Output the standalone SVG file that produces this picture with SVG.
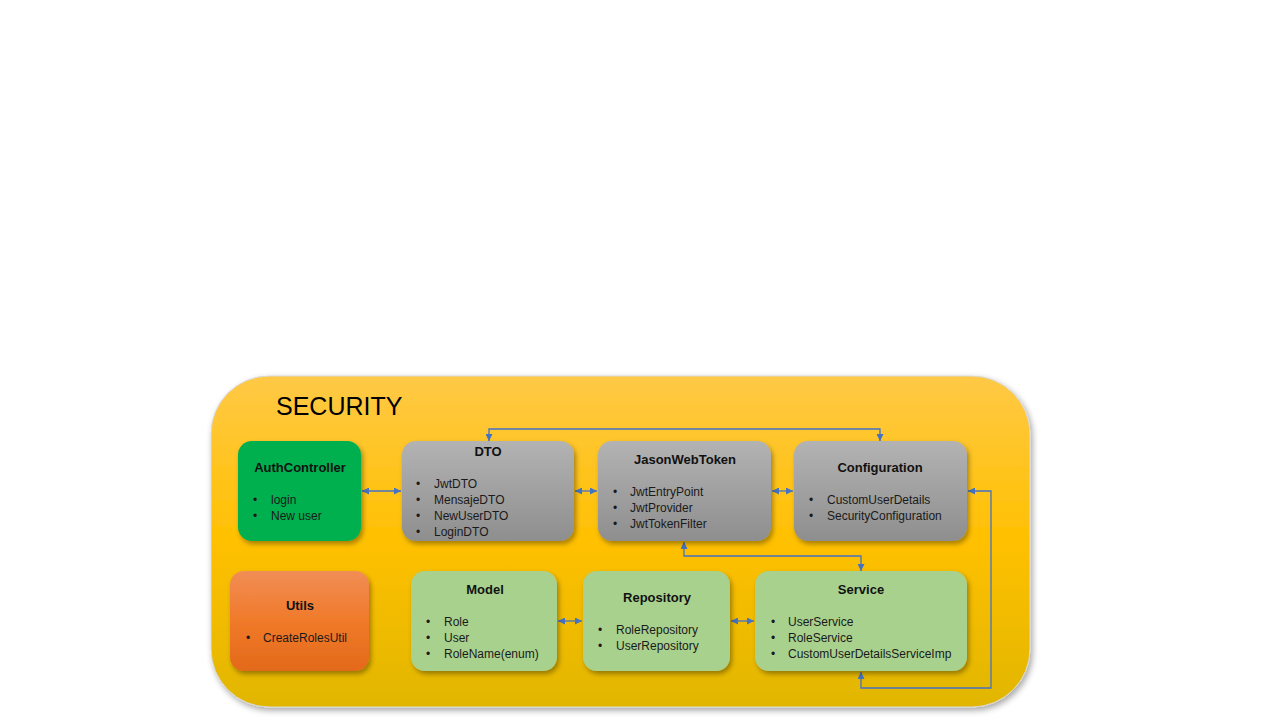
<svg xmlns="http://www.w3.org/2000/svg" width="1280" height="720" viewBox="0 0 1280 720">
<defs>
<linearGradient id="gOuter" x1="0" y1="0" x2="0" y2="1">
<stop offset="0" stop-color="#FFC946"/>
<stop offset="0.5" stop-color="#FFC000"/>
<stop offset="1" stop-color="#E1B600"/>
</linearGradient>
<linearGradient id="gGray" x1="0" y1="0" x2="0" y2="1">
<stop offset="0" stop-color="#B3B3B3"/>
<stop offset="1" stop-color="#8E8E8E"/>
</linearGradient>
<linearGradient id="gOrange" x1="0" y1="0" x2="0" y2="1">
<stop offset="0" stop-color="#F18D55"/>
<stop offset="0.5" stop-color="#F07A2A"/>
<stop offset="1" stop-color="#E3691A"/>
</linearGradient>
<filter id="sh" x="-10%" y="-10%" width="125%" height="130%">
<feDropShadow dx="2" dy="3" stdDeviation="2.5" flood-color="#000" flood-opacity="0.35"/>
</filter>
<filter id="shOuter" x="-5%" y="-5%" width="110%" height="115%">
<feDropShadow dx="2" dy="3" stdDeviation="3" flood-color="#000" flood-opacity="0.35"/>
</filter>
<marker id="arr" viewBox="0 0 10 10" refX="10" refY="5" markerWidth="7" markerHeight="7" markerUnits="userSpaceOnUse" orient="auto-start-reverse">
<path d="M0,0 L10,5 L0,10 z" fill="#4472C4"/>
</marker>
</defs>
<style>
.title{font-family:"Liberation Sans",Arial,sans-serif;font-weight:bold;font-size:13px;fill:#111;text-anchor:middle}
.item{font-family:"Liberation Sans",Arial,sans-serif;font-size:12px;fill:#1a1a1a}
.sec{font-family:"Liberation Sans",Arial,sans-serif;font-size:25px;fill:#000}
.conn{fill:none;stroke:#4472C4;stroke-width:1.3;marker-start:url(#arr);marker-end:url(#arr)}
.box{filter:url(#sh)}
</style>
<rect width="1280" height="720" fill="#FFFFFF"/>
<g id="security">
<rect x="211" y="376" width="819" height="331" rx="58" ry="58" fill="url(#gOuter)" stroke="#D9D9D9" stroke-width="1" filter="url(#shOuter)"/>
<text class="sec" x="276" y="415">SECURITY</text>
</g>
<g id="connectors">
<path class="conn" d="M362,491 H401"/>
<path class="conn" d="M575,491 H597"/>
<path class="conn" d="M772,491 H793"/>
<path class="conn" d="M489,441 V429 H880 V441"/>
<path class="conn" d="M684,542 V556 H861 V571"/>
<path class="conn" d="M558,621 H582"/>
<path class="conn" d="M731,621 H754"/>
<path class="conn" d="M861,672 V688 H991 V491 H968"/>
</g>
<g id="authcontroller">
<rect class="box" x="238" y="441" width="123" height="100" rx="14" fill="#00B050"/>
<text class="title" x="300" y="472">AuthController</text>
<text class="item" x="253" y="504">•</text><text class="item" x="271" y="504">login</text>
<text class="item" x="253" y="520">•</text><text class="item" x="271" y="520">New user</text>
</g>
<g id="dto">
<rect class="box" x="402" y="441" width="172" height="100" rx="14" fill="url(#gGray)"/>
<text class="title" x="488" y="456">DTO</text>
<text class="item" x="416" y="488">•</text><text class="item" x="434" y="488">JwtDTO</text>
<text class="item" x="416" y="504">•</text><text class="item" x="434" y="504">MensajeDTO</text>
<text class="item" x="416" y="520">•</text><text class="item" x="434" y="520">NewUserDTO</text>
<text class="item" x="416" y="536">•</text><text class="item" x="434" y="536">LoginDTO</text>
</g>
<g id="jasonwebtoken">
<rect class="box" x="598" y="441" width="173" height="100" rx="14" fill="url(#gGray)"/>
<text class="title" x="685" y="464">JasonWebToken</text>
<text class="item" x="613" y="496">•</text><text class="item" x="630" y="496">JwtEntryPoint</text>
<text class="item" x="613" y="512">•</text><text class="item" x="630" y="512">JwtProvider</text>
<text class="item" x="613" y="528">•</text><text class="item" x="630" y="528">JwtTokenFilter</text>
</g>
<g id="configuration">
<rect class="box" x="794" y="441" width="173" height="100" rx="14" fill="url(#gGray)"/>
<text class="title" x="880" y="472">Configuration</text>
<text class="item" x="809" y="504">•</text><text class="item" x="827" y="504">CustomUserDetails</text>
<text class="item" x="809" y="520">•</text><text class="item" x="827" y="520">SecurityConfiguration</text>
</g>
<g id="utils">
<rect class="box" x="230" y="571" width="139" height="100" rx="14" fill="url(#gOrange)"/>
<text class="title" x="300" y="610">Utils</text>
<text class="item" x="246" y="642">•</text><text class="item" x="263" y="642">CreateRolesUtil</text>
</g>
<g id="model">
<rect class="box" x="411" y="571" width="146" height="100" rx="14" fill="#A9D18E"/>
<text class="title" x="485" y="594">Model</text>
<text class="item" x="426" y="626">•</text><text class="item" x="444" y="626">Role</text>
<text class="item" x="426" y="642">•</text><text class="item" x="444" y="642">User</text>
<text class="item" x="426" y="658">•</text><text class="item" x="444" y="658">RoleName(enum)</text>
</g>
<g id="repository">
<rect class="box" x="583" y="571" width="147" height="100" rx="14" fill="#A9D18E"/>
<text class="title" x="657" y="602">Repository</text>
<text class="item" x="598" y="634">•</text><text class="item" x="616" y="634">RoleRepository</text>
<text class="item" x="598" y="650">•</text><text class="item" x="616" y="650">UserRepository</text>
</g>
<g id="service">
<rect class="box" x="755" y="571" width="212" height="100" rx="14" fill="#A9D18E"/>
<text class="title" x="861" y="594">Service</text>
<text class="item" x="771" y="626">•</text><text class="item" x="788" y="626">UserService</text>
<text class="item" x="771" y="642">•</text><text class="item" x="788" y="642">RoleService</text>
<text class="item" x="771" y="658">•</text><text class="item" x="788" y="658">CustomUserDetailsServiceImp</text>
</g>
</svg>
